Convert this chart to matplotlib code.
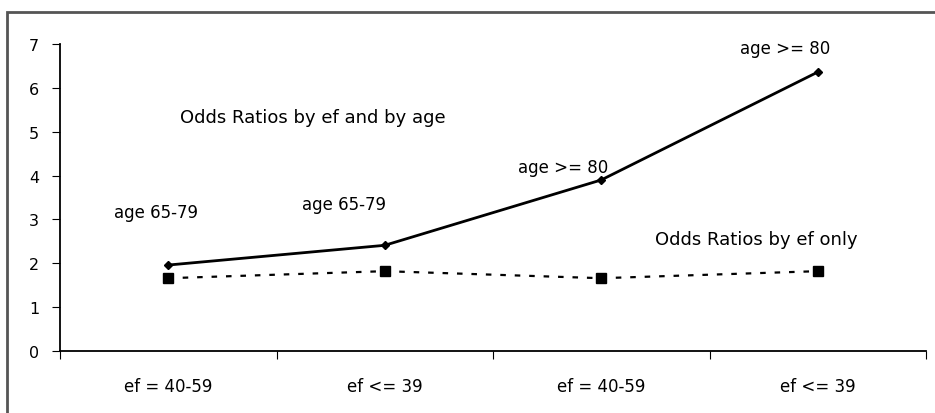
import matplotlib
matplotlib.use("Agg")
from matplotlib import pyplot as plt
from matplotlib.patches import Rectangle

# categories along the x axis
categories = ["ef = 40-59", "ef <= 39", "ef = 40-59", "ef <= 39"]
# odds ratios
or_ef_age = [1.96, 2.41, 3.90, 6.36]
or_ef_only = [1.66, 1.82, 1.66, 1.82]
# point labels for the ef-and-age line (left edge x, centre y)
age_labels = ["age 65-79", "age 65-79", "age >= 80", "age >= 80"]
age_label_x = [-0.25, 0.62, 1.615, 2.64]
age_label_y = [3.17, 3.35, 4.2, 6.9]

plt.rcParams['font.family'] = ['DejaVu Sans']

fig = plt.figure(figsize=(9.35, 4.14), dpi=100)
ax = fig.add_axes([60 / 935, 62 / 414, 866 / 935, 307 / 414])

x = list(range(len(categories)))
ax.plot(x, or_ef_age, color="black", linewidth=2, marker="D", markersize=4)
ax.plot(x, or_ef_only, color="black", linewidth=1.6, linestyle=(0, (2.5, 4)),
        marker="s", markersize=7)

for lx, lab, ly in zip(age_label_x, age_labels, age_label_y):
    ax.text(lx, ly, lab, ha="left", va="center", fontsize=12)

ax.text(0.054, 5.33, "Odds Ratios by ef and by age", ha="left", va="center", fontsize=13)
ax.text(2.248, 2.55, "Odds Ratios by ef only", ha="left", va="center", fontsize=13)

ax.set_xlim(-0.5, len(categories) - 0.5)
ax.set_ylim(0, 7)
ax.set_yticks(range(0, 8))
ax.set_xticks([i - 0.5 for i in range(len(categories) + 1)])
ax.set_xticklabels([])
ax.set_xticks(x, minor=True)
ax.set_xticklabels(categories, minor=True)
ax.tick_params(axis="x", which="minor", length=0, pad=19, labelsize=12)
ax.tick_params(axis="x", which="major", length=6, direction="out")
ax.tick_params(axis="y", length=6, direction="out", labelsize=11.5, pad=9)
ax.spines["top"].set_visible(False)
ax.spines["right"].set_visible(False)
ax.spines["left"].set_linewidth(1.3)
ax.spines["bottom"].set_linewidth(1.3)

# outer frame of the original figure
fig.patches.append(Rectangle((7 / 935, -0.2), 1.2, (414 - 13) / 414 + 0.2,
                             transform=fig.transFigure, fill=False,
                             edgecolor="#555555", linewidth=2))

fig.savefig("out.png", dpi=100)
